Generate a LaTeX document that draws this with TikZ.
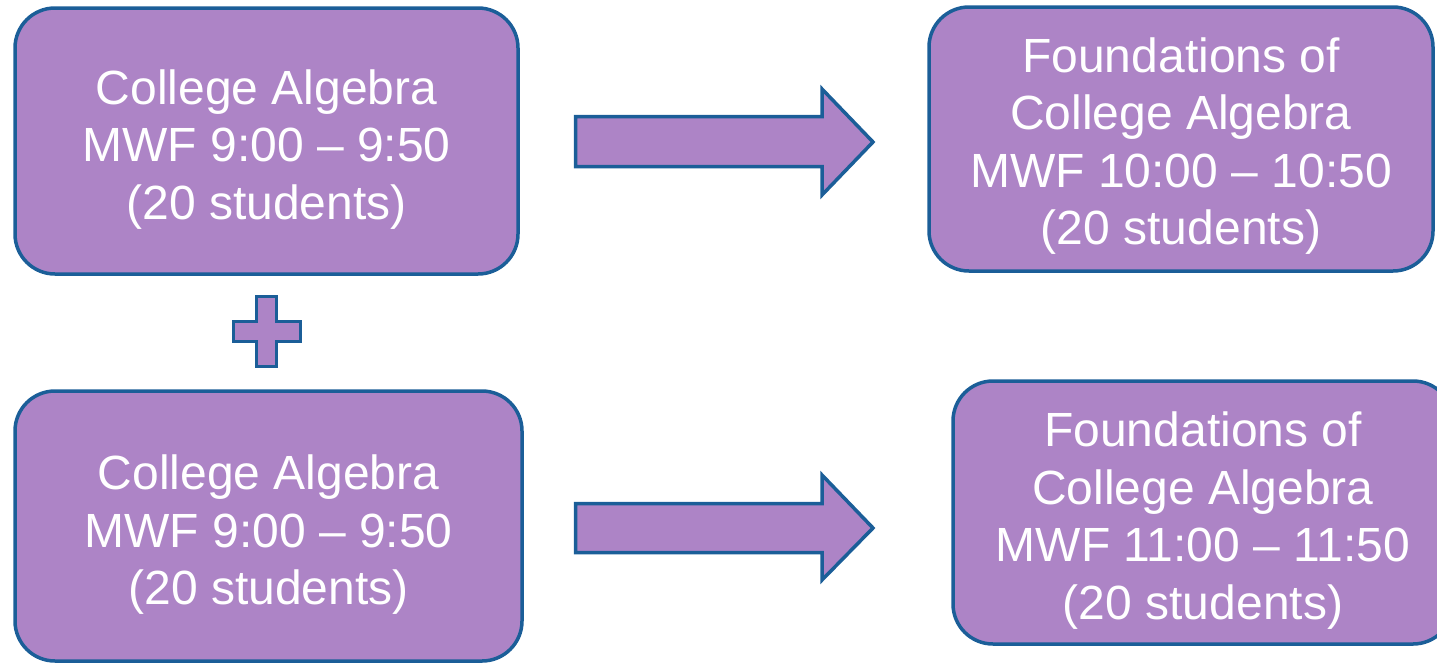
\documentclass[tikz,border=0pt]{standalone}
\usepackage{fontspec}
\setmainfont{Liberation Sans}
\definecolor{boxfill}{HTML}{AD84C6}
\definecolor{boxline}{HTML}{1B5E98}
\begin{document}
\begin{tikzpicture}[x=1pt,y=-1pt,
  course/.style={draw=boxline, fill=boxfill, line width=3.5pt, rounded corners=40pt,
    inner sep=0pt},
  coursetext/.style={text=white, align=center, inner sep=0pt, text depth=0pt,
    font=\fontsize{48}{57.5}\selectfont},
  blockshape/.style={draw=boxline, fill=boxfill, line width=3.5pt, line join=miter}]
\useasboundingbox (0,0) rectangle (1437,664);
\clip (0,0) rectangle (1437,664);
\node[course, minimum width=503pt, minimum height=266pt] (ca1) at (266.5,141) {};
\node[coursetext] (ca1t) at ([yshift=-3.5pt]ca1.center)
  {College Algebra\\MWF 9:00 -- 9:50\\(20 students)};
\node[course, minimum width=507pt, minimum height=270pt] (ca2) at (268.5,526) {};
\node[coursetext] (ca2t) at ([yshift=-4pt]ca2.center)
  {College Algebra\\MWF 9:00 -- 9:50\\(20 students)};
\node[course, minimum width=504pt, minimum height=264pt] (fca1) at (1181,139) {};
\node[coursetext] (fca1t) at ([yshift=-2pt]fca1.center)
  {Foundations of\\College Algebra\\MWF 10:00 -- 10:50\\(20 students)};
\node[course, minimum width=500pt, minimum height=263pt] (fca2) at (1203,512.5) {};
\node[coursetext] (fca2t) at ([yshift=-3pt]fca2.center)
  {Foundations of\\College Algebra\\MWF 11:00 -- 11:50\\(20 students)};
% block arrows
\draw[blockshape] (575.5,116.5) -- (822,116.5) -- (822,89) -- (873,142)
  -- (822,195) -- (822,166.5) -- (575.5,166.5) -- cycle;
\draw[blockshape] (575.5,503.5) -- (822,503.5) -- (822,475) -- (873,528)
  -- (822,580) -- (822,552.5) -- (575.5,552.5) -- cycle;
% plus sign
\draw[blockshape] (256.5,296.5) -- (276.5,296.5) -- (276.5,321.5) -- (300.5,321.5)
  -- (300.5,341.5) -- (276.5,341.5) -- (276.5,366.5) -- (256.5,366.5)
  -- (256.5,341.5) -- (233.5,341.5) -- (233.5,321.5) -- (256.5,321.5) -- cycle;
\end{tikzpicture}
\end{document}
